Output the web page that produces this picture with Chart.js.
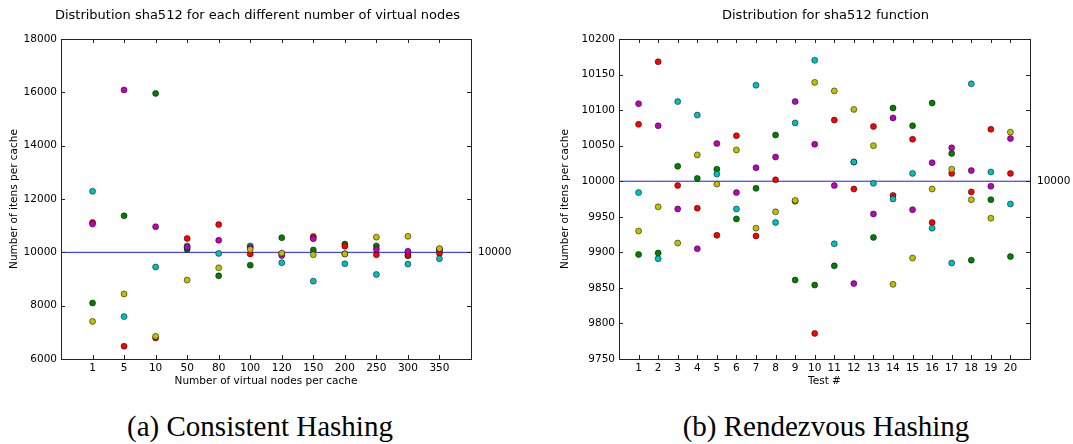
<!DOCTYPE html>
<html>
<head>
<meta charset="utf-8">
<script src="https://cdn.jsdelivr.net/npm/chart.js@4.4.1/dist/chart.umd.min.js"></script>
<style>
  body { margin: 0; background: #fff; width: 1073px; height: 444px; position: relative; overflow: hidden; }
  canvas { position: absolute; top: 0; }
  #chartA { left: 0; }
  #chartB { left: 540px; }
  .caption { position: absolute; top: 409px; width: 400px; text-align: center;
             font-family: 'Liberation Serif', serif; font-size: 29px; line-height: 34px; color: #000; }
</style>
</head>
<body>
<canvas id="chartA" width="540" height="400"></canvas>
<canvas id="chartB" width="533" height="400"></canvas>
<div class="caption" style="left:60px">(a) Consistent Hashing</div>
<div class="caption" style="left:626px">(b) Rendezvous Hashing</div>
<script>
// --- данные: (a) consistent hashing ---
const nodeCounts = ['1', '5', '10', '50', '80', '100', '120', '150', '200', '250', '300', '350'];
const chGreen   = [8100, 11370, 15960, 10110, 9120, 9520, 10550, 10090, 10310, 10240, 9870, 10060];
const chRed     = [11120, 6480, 6790, 10520, 11040, 9940, 9950, 10590, 10230, 9910, 9900, 9960];
const chCyan    = [12290, 7590, 9450, 10240, 9960, 10240, 9610, 8920, 9570, 9170, 9560, 9760];
const chMagenta = [11060, 16090, 10960, 10190, 10450, 10180, 9880, 10510, 9945, 10110, 10040, 10120];
const chYellow  = [7410, 8440, 6850, 8960, 9420, 10110, 9970, 9910, 9940, 10570, 10600, 10140];

// --- данные: (b) rendezvous hashing ---
const testIds   = ['1','2','3','4','5','6','7','8','9','10','11','12','13','14','15','16','17','18','19','20'];
const rhGreen   = [9897, 9899, 10021, 10004, 10017, 9947, 9990, 10065, 9861, 9854, 9881, 10027, 9921, 10103, 10078, 10110, 10039, 9889, 9974, 9894];
const rhRed     = [10080, 10168, 9994, 9962, 9924, 10064, 9923, 10002, 9972, 9786, 10086, 9989, 10077, 9980, 10059, 9942, 10011, 9985, 10073, 10011];
const rhCyan    = [9984, 9891, 10112, 10093, 10010, 9961, 10135, 9942, 10082, 10170, 9912, 10027, 9997, 9975, 10011, 9934, 9885, 10137, 10013, 9968];
const rhMagenta = [10109, 10078, 9961, 9905, 10053, 9984, 10019, 10034, 10112, 10052, 9994, 9856, 9954, 10089, 9960, 10026, 10047, 10015, 9993, 10060];
const rhYellow  = [9930, 9964, 9913, 10037, 9996, 10044, 9934, 9957, 9973, 10139, 10127, 10101, 10050, 9855, 9892, 9989, 10017, 9974, 9948, 10069];

const expected = 10000;
const chYTicks = [6000, 18000, 2000];   // min, max, step
const rhYTicks = [9750, 10200, 50];

const FONT = "'DejaVu Sans', sans-serif";
const colors = { green: '#008000', red: '#ff0000', cyan: '#00bfbf', magenta: '#bf00bf', yellow: '#bfbf00' };

function pts(values) {
    return values.map((v, i) => ({ x: i + 1, y: v }));
}

function scatterSet(values, color, order) {
    return {
        type: 'scatter', data: pts(values), order,
        backgroundColor: color, borderColor: '#000', borderWidth: 0.5,
        pointRadius: 3, pointHoverRadius: 3
    };
}

// заголовок, рамка, внутренние засечки со всех сторон и подпись опорной линии
const framePlugin = {
    id: 'frame',
    afterDraw(chart, args, opts) {
        const { ctx, chartArea: a, scales } = chart;
        ctx.save();
        ctx.fillStyle = '#000';
        ctx.font = '13px ' + FONT;
        ctx.textAlign = 'center';
        ctx.textBaseline = 'middle';
        ctx.fillText(opts.title, opts.titleX, 16);

        ctx.strokeStyle = '#222';
        ctx.lineWidth = 1;
        ctx.beginPath();
        scales.x.ticks.forEach(t => {
            const px = Math.round(scales.x.getPixelForValue(t.value)) + 0.5;
            ctx.moveTo(px, a.bottom); ctx.lineTo(px, a.bottom - 4);
            ctx.moveTo(px, a.top); ctx.lineTo(px, a.top + 4);
        });
        scales.y.ticks.forEach(t => {
            const py = Math.round(scales.y.getPixelForValue(t.value)) + 0.5;
            ctx.moveTo(a.left, py); ctx.lineTo(a.left + 4, py);
            ctx.moveTo(a.right, py); ctx.lineTo(a.right - 4, py);
        });
        ctx.stroke();
        ctx.strokeRect(Math.round(a.left) + 0.5, Math.round(a.top) + 0.5,
                       Math.round(a.right - a.left), Math.round(a.bottom - a.top));
        ctx.font = '10.5px ' + FONT;
        ctx.textAlign = 'left';
        ctx.fillText(String(expected), a.right + 7, scales.y.getPixelForValue(expected));
        ctx.restore();
    }
};

function makeChart(id, cfg) {
    const n = cfg.labels.length;
    const [ymin, ymax, ystep] = cfg.yTicks;
    return new Chart(document.getElementById(id), {
        data: {
            datasets: [
                { type: 'line', data: [{ x: 0, y: expected }, { x: n + 1, y: expected }], order: 10,
                  borderColor: '#1a1aff', borderWidth: 1, pointRadius: 0, fill: false },
                scatterSet(cfg.series[0], colors.green, 5),
                scatterSet(cfg.series[1], colors.red, 4),
                scatterSet(cfg.series[2], colors.cyan, 3),
                scatterSet(cfg.series[3], colors.magenta, 2),
                scatterSet(cfg.series[4], colors.yellow, 1)
            ]
        },
        options: {
            responsive: false, animation: false,
            layout: { padding: { left: 0, right: cfg.padRight, top: 39, bottom: 0 } },
            plugins: {
                legend: { display: false }, tooltip: { enabled: false }, title: { display: false },
                frame: { title: cfg.title, titleX: cfg.titleX }
            },
            scales: {
                x: {
                    type: 'linear', min: 0, max: n + 1,
                    grid: { display: false, drawTicks: false },
                    border: { display: false },
                    afterBuildTicks: s => { s.ticks = cfg.labels.map((l, i) => ({ value: i + 1 })); },
                    afterFit: s => { s.height = 41; },
                    ticks: { autoSkip: false, maxRotation: 0, padding: 3, color: '#000',
                             font: { family: FONT, size: 10.5 },
                             callback: v => cfg.labels[v - 1] },
                    title: { display: true, text: cfg.xTitle, color: '#000',
                             font: { family: FONT, size: 10.5 }, padding: { top: 0, bottom: 12.7 } }
                },
                y: {
                    min: ymin, max: ymax,
                    grid: { display: false, drawTicks: false },
                    border: { display: false },
                    afterFit: s => { s.width = cfg.yWidth; },
                    ticks: { stepSize: ystep, padding: 4, color: '#000',
                             font: { family: FONT, size: 10.5 },
                             callback: v => String(v) },
                    title: { display: true, text: 'Number of itens per cache', color: '#000',
                             font: { family: FONT, size: 10.5 }, padding: { top: cfg.yTitlePad, bottom: 0 } }
                }
            }
        },
        plugins: [framePlugin]
    });
}

makeChart('chartA', {
    title: 'Distribution sha512 for each different number of virtual nodes',
    titleX: 257.5,
    xTitle: 'Number of virtual nodes per cache',
    labels: nodeCounts,
    series: [chGreen, chRed, chCyan, chMagenta, chYellow],
    yTicks: chYTicks, yWidth: 61, yTitlePad: 7.7, padRight: 69
});

makeChart('chartB', {
    title: 'Distribution for sha512 function',
    titleX: 285.5,
    xTitle: 'Test #',
    labels: testIds,
    series: [rhGreen, rhRed, rhCyan, rhMagenta, rhYellow],
    yTicks: rhYTicks, yWidth: 79, yTitlePad: 18.7, padRight: 43
});
</script>
</body>
</html>
